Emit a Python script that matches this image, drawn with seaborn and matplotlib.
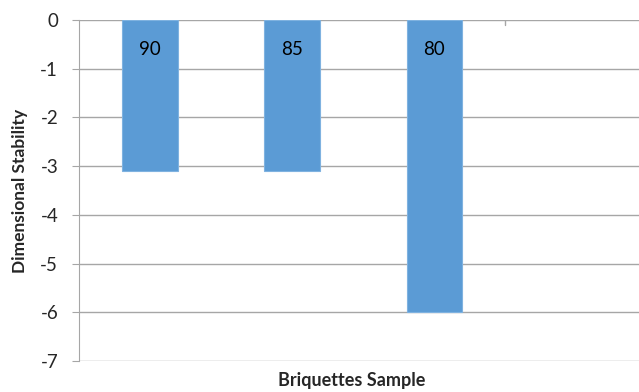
import pandas as pd
import matplotlib.pyplot as plt
import seaborn as sns
import numpy as np

# Briquettes samples and their dimensional stability
samples = ['90', '85', '80', '']
stability = [-3.1, -3.1, -6.0, np.nan]

df = pd.DataFrame({'Sample': samples, 'Stability': stability})

sns.set_style('white')
plt.rcParams['font.family'] = ['Lato', 'DejaVu Sans']
plt.rcParams['axes.unicode_minus'] = False

fig = plt.figure(figsize=(6.39, 3.92), dpi=100)
ax = fig.add_axes([79 / 639, 31 / 392, 560 / 639, 341 / 392])

sns.barplot(data=df, x='Sample', y='Stability', color='#5B9BD5', width=0.39,
            saturation=1, edgecolor='#7FB2E0', linewidth=0.8, ax=ax, zorder=3)

for i, lab in enumerate(samples[:3]):
    ax.text(i, -0.6, lab, ha='center', va='center', fontsize=13.5, color='black', zorder=4)

ax.set_ylim(-7, 0)
ax.set_xlim(-0.5, 3.44)
ax.set_yticks(range(-7, 1))
ax.set_xticks([])
ax.yaxis.grid(True, color='#A6A6A6', linewidth=1, zorder=0)
ax.tick_params(axis='y', labelsize=13.5, length=5, color='#A6A6A6', left=True, pad=10)
for s in ['top', 'right', 'bottom']:
    ax.spines[s].set_visible(False)
ax.spines['left'].set_color('#A6A6A6')
ax.axvline(2.5, ymin=0.985, ymax=1, color='#A6A6A6', linewidth=1)

ax.set_ylabel('Dimensional Stability', fontsize=12.5, fontweight='bold', va='center')
ax.yaxis.set_label_coords(-0.105, 0.5)
ax.set_xlabel('Briquettes Sample', fontsize=13, fontweight='bold', va='center')
ax.xaxis.set_label_coords(0.4875, -0.056)

fig.savefig('out.png', dpi=100)
